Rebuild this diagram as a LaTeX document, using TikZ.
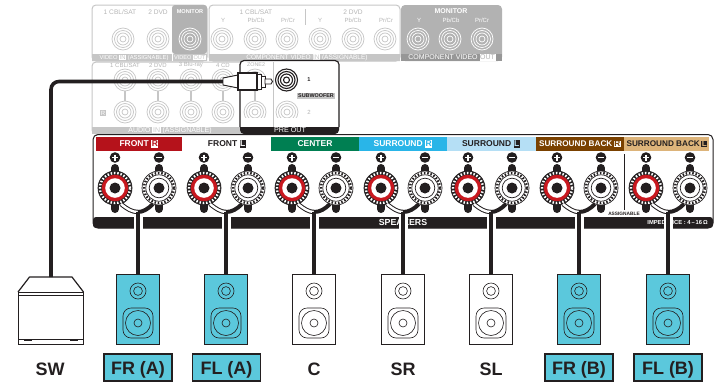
\documentclass[tikz,border=0pt]{standalone}
\usepackage{fontspec}
\setmainfont{Liberation Sans}
\usetikzlibrary{positioning}
\definecolor{Ink}{HTML}{231F20}
\definecolor{PanelLine}{HTML}{C6C6C6}
\definecolor{PanelText}{HTML}{B4B4B4}
\definecolor{Monitor}{HTML}{B2B2B2}
\definecolor{Teal}{HTML}{5BC8DC}
\definecolor{TermRed}{HTML}{C8181F}
\definecolor{FrontRed}{HTML}{B5121B}
\definecolor{CenterGreen}{HTML}{007F52}
\definecolor{SurrCyan}{HTML}{29B5E8}
\definecolor{SurrPale}{HTML}{B5DFF5}
\definecolor{BackBrown}{HTML}{7A4100}
\definecolor{BackTan}{HTML}{DDB47A}
\newcommand{\chan}[3]{{\setlength{\fboxsep}{0.6pt}\colorbox{#1}{\textcolor{#2}{#3}}}}
\tikzset{
  graytxt/.style={inner sep=0pt,text=PanelText,font=\fontsize{6}{7}\selectfont},
  striptxt/.style={inner sep=0pt,text=white,font=\fontsize{6.5}{7}\selectfont},
  bartxt/.style={inner sep=0pt,font=\fontsize{8.5}{10}\selectfont\bfseries},
  spkbox/.style={draw=Ink,line width=1.2pt,minimum width=43pt,minimum height=70pt,inner sep=0pt},
  spklabel/.style={inner sep=0pt,text=Ink,font=\fontsize{18}{20}\selectfont\bfseries},
  spktag/.style={spklabel,draw=Ink,line width=1.5pt,fill=Teal,minimum width=68pt,minimum height=27pt,text height=16pt,text depth=2pt},
  cable/.style={Ink,line width=3.6pt},
  halo/.style={white,line width=9pt}
}
\begin{document}
\begin{tikzpicture}[x=1pt,y=-1pt]
    \useasboundingbox (0,0) rectangle (717,383);

    % rear panels, greyed out
    \draw[PanelLine,line width=1pt,rounded corners=4pt] (92,5) rectangle (207,61);
    \fill[Monitor,rounded corners=3pt] (172,5) rectangle (207,54);
    \draw[PanelLine,line width=1pt,rounded corners=4pt] (209,5) rectangle (400,61);
    \fill[Monitor,rounded corners=4pt] (401,5) rectangle (502,61);
    \draw[PanelLine,line width=1pt,rounded corners=4pt] (92,62) rectangle (245,134);
    \fill[PanelLine] (92,54) rectangle (207,61) (209,54) rectangle (400,61);
    \fill[PanelLine] (92,127) rectangle (245,134);
    \fill[Monitor!85!black] (401,54) rectangle (502,61);
    \draw[PanelLine,line width=1pt] (305,9) -- (305,25);
    \draw[white,line width=0.8pt] (172,54) -- (172,61);

    \foreach \x in {125,158,191,223}{\draw[PanelLine,line width=1.4pt] (\x,88) -- (\x,104);}
    \foreach \x/\y in {123/39,158/39,222/39,255/39,287/39,320/39,353/39,385/39,125/80,158/80,191/80,223/80,125/112,158/112,191/112,223/112}{
      \draw[PanelLine,fill=white,line width=0.7pt] (\x,\y) circle (11pt) circle (8.5pt) circle (6pt) circle (3pt);
    }
    \foreach \x in {190,418,450,482}{
      \draw[white,line width=0.7pt] (\x,39) circle (11pt) circle (8.5pt) circle (6pt) circle (3pt);
    }
    \foreach \n/\x/\t in {a/120/{1 CBL/SAT},b/158/{2 DVD},c/256/{1 CBL/SAT},d/353/{2 DVD}}{
      \node[graytxt,font=\fontsize{6.6}{7}\selectfont] (top\n) at (\x,12) {\t};
    }
    \foreach \n/\x/\y/\t in {e/223/20/Y,f/256/20/{Pb/Cb},g/288/20/{Pr/Cr},h/320/20/Y,i/353/20/{Pb/Cb},j/386/20/{Pr/Cr},
      k/125/65/{1 CBL/SAT},l/158/65/{2 DVD},m/191/65/{3 Blu-ray},n/223/65/{4 CD}}{
      \node[graytxt] (top\n) at (\x,\y) {\t};
    }
    \foreach \n/\x/\t in {y/419/Y,b/451/{Pb/Cb},r/482/{Pr/Cr}}{\node[graytxt,text=white] (mon\n) at (\x,20) {\t};}
    \node[graytxt,text=white,font=\fontsize{5.6}{6}\selectfont\bfseries] (vidmon) at (190,11.5) {MONITOR};
    \node[graytxt,text=white,font=\fontsize{7}{8}\selectfont\bfseries] (cmpmon) at (451,11) {MONITOR};
    \node[graytxt] (rbox) at (103,113) {\chan{PanelLine}{white}{R}};

    \node[striptxt,font=\fontsize{5.8}{6}\selectfont] (vidin) at (134,57.5) {VIDEO \chan{white}{PanelLine}{IN} (ASSIGNABLE)};
    \node[striptxt,font=\fontsize{5.6}{6}\selectfont] (vidout) at (190,57.5) {VIDEO \chan{white}{PanelLine}{OUT}};
    \node[striptxt] (cmpin) at (307,57.5) {COMPONENT VIDEO \chan{white}{PanelLine}{IN} (ASSIGNABLE)};
    \node[striptxt,font=\fontsize{7}{8}\selectfont] (cmpout) at (452,57.5) {COMPONENT VIDEO \chan{white}{Monitor}{OUT}};
    \node[striptxt,font=\fontsize{7}{8}\selectfont] (audin) at (170,130.5) {AUDIO \chan{white}{PanelLine}{IN} (ASSIGNABLE)};

    % pre out block
    \fill[white,rounded corners=4pt] (240,60) rectangle (339,133);
    \draw[PanelLine,line width=1.4pt] (255,88) -- (255,104);
    \draw[PanelLine,line width=0.9pt] (273,62) -- (273,127);
    \foreach \x/\y in {255/80,255/112,287/112}{
      \draw[PanelLine,fill=white,line width=0.7pt] (\x,\y) circle (11pt) circle (8.5pt) circle (6pt) circle (3pt);
    }
    \fill[Ink,rounded corners=4pt] (240,120) rectangle (339,134);
    \fill[white] (240,118) rectangle (339,127);
    \draw[PanelLine,line width=0.9pt] (273,118) -- (273,127);
    \draw[Ink,line width=1.2pt,rounded corners=4pt] (240,127) -- (240,60.5) -- (339,60.5) -- (339,127);
    \node[striptxt,font=\fontsize{7.2}{8}\selectfont] (preout) at (290,130.5) {PRE OUT};
    \node[graytxt,font=\fontsize{5.4}{6}\selectfont] (zonetwo) at (256,65) {ZONE2};
    \node[graytxt,text=Ink,font=\fontsize{5.6}{6}\selectfont\bfseries] (subone) at (309,80) {1};
    \node[graytxt] (subtwo) at (309,112) {2};
    \node[fill=PanelLine,inner sep=0.8pt,text=Ink,font=\fontsize{5.4}{6}\selectfont\bfseries] (subname) at (316,96) {SUBWOOFER};
    \draw[Ink,fill=white,line width=1.1pt] (286.5,80) circle (11pt) circle (8.5pt) circle (6pt) circle (3pt);

    % speaker terminal panel
    \draw[Ink,fill=white,line width=1pt,rounded corners=5pt] (93,134.5) rectangle (713,228);
    \fill[Ink,rounded corners=3pt] (93,217) rectangle (713,228);
    \fill[FrontRed] (96,137) rectangle (182,151);
    \fill[CenterGreen] (271,137) rectangle (359,151);
    \fill[SurrCyan] (359,137) rectangle (447,151);
    \fill[SurrPale] (447,137) rectangle (536,151);
    \fill[BackBrown] (536,137) rectangle (624,151);
    \fill[BackTan] (624,137) rectangle (709,151);
    \node[bartxt,text=white] (frontr) at (139,144) {FRONT \chan{white}{FrontRed}{R}};
    \node[bartxt,text=Ink] (frontl) at (227,144) {FRONT \chan{Ink}{white}{L}};
    \node[bartxt,text=white] (center) at (315,144) {CENTER};
    \node[bartxt,text=white] (surrr) at (403,144) {SURROUND \chan{white}{SurrCyan}{R}};
    \node[bartxt,text=Ink] (surrl) at (491,144) {SURROUND \chan{Ink}{SurrPale}{L}};
    \node[bartxt,text=white,font=\fontsize{8.2}{10}\selectfont\bfseries] (backr) at (580,144) {SURROUND BACK\,\chan{white}{BackBrown}{R}};
    \node[bartxt,text=Ink,font=\fontsize{8.2}{10}\selectfont\bfseries] (backl) at (667,144) {SURROUND BACK\,\chan{Ink}{BackTan}{L}};
    \draw[Ink,line width=1pt] (624,154) -- (624,210);
    \node[inner sep=0pt,text=Ink,font=\fontsize{4.8}{6}\selectfont\bfseries] (assign) at (624,213.5) {ASSIGNABLE};
    \node[striptxt,font=\fontsize{8.8}{10}\selectfont\bfseries] (speakers) at (403,222.5) {SPEAKERS};
    \node[striptxt,anchor=east,font=\fontsize{5.8}{6}\selectfont\bfseries] (imped) at (708,222.5) {IMPEDANCE : 4\,–\,16\,Ω};

    \foreach \n/\x/\cx/\c in {FRA/115/138/Teal,FLA/204/226/Teal,C/292/314/white,SR/381/403/white,SL/468/491/white,FRB/557/579/Teal,FLB/646/668/Teal}{
      \pgfmathsetmacro{\xm}{\x+44}
      \foreach \u/\f/\e/\k in {\x/TermRed/Ink/white,\xm/white/white/Ink}{
        \draw[Ink,line width=8pt,line cap=round] (\u,168) -- (\u,209);
        \draw[Ink,fill=\e,line width=0.7pt] (\u,188) circle (17pt);
        \draw[\k,line width=2.4pt,dash pattern=on 1.5pt off 1.8pt] (\u,188) circle (15pt);
        \fill[\f] (\u,188) circle (13.2pt);
        \ifx\f\e\draw[Ink,line width=0.7pt] (\u,188) circle (13.2pt);\fi
        \fill[white] (\u,188) circle (9.8pt);
        \ifx\f\e\draw[Ink,line width=0.7pt] (\u,188) circle (9.8pt);\fi
        \fill[Ink] (\u,188) circle (5.5pt);
        \fill[Ink] (\u,157.5) circle (5.3pt);
      }
      \draw[white,line width=1.5pt] (\x-3,157.5) -- (\x+3,157.5) (\x,154.5) -- (\x,160.5);
      \draw[white,line width=1.5pt] (\xm-3,157.5) -- (\xm+3,157.5);
      \node[spkbox,fill=\c] (spk\n) at (\cx,309.5) {};
      \coordinate (tap\n) at (\cx,212);
      \coordinate (plus\n) at (\x+6,204);
      \coordinate (minus\n) at (\xm-6,204);
      \draw[halo] (tap\n) -- (spk\n.north);
      \draw[Ink,line width=4.4pt] (plus\n) .. controls (\x+12,209) and (\x+17,212) .. (tap\n);
      \draw[white,line width=2.4pt] (plus\n) .. controls (\x+12,209) and (\x+17,212) .. (tap\n);
      \draw[Ink,line width=4pt] (minus\n) .. controls (\xm-11,209) and (\xm-16,212) .. (tap\n);
      \draw[cable] (tap\n) -- (spk\n.north);
      \draw[Ink,line width=0.6pt] (\cx,291) circle (8pt) circle (4.4pt);
      \draw[Ink,line width=0.6pt,rounded corners=8pt] (\cx-15,308) rectangle (\cx+15,338);
      \draw[Ink,line width=0.6pt] (\cx,323) circle (12.5pt) circle (4pt);
    }

    % subwoofer
    \coordinate (plugtail) at (225,81.5);
    \node[draw=Ink,line width=1.2pt,minimum width=65pt,minimum height=52pt,inner sep=0pt] (spkSW) at (51,318.5) {};
    \coordinate (swtop) at (51,277);
    \draw[Ink,line width=1.2pt,line join=round] (18,292) -- (29.5,277) -- (72,277) -- (83.5,292);
    \draw[Ink,line width=0.8pt] (18,295) -- (84,295);
    \draw[Ink,line width=0.7pt] (18.5,339.5) -- (83.5,339.5);
    \draw[Ink,line width=1pt] (24,340.5) -- (32,340.5) (70,340.5) -- (78,340.5);
    \draw[cable,rounded corners=8pt] (plugtail) -| (swtop);

    % plug
    \draw[Ink,fill=white,line width=0.9pt,line join=round] (223,78) -- (238,75) -- (238,88) -- (223,85) -- cycle;
    \draw[Ink,fill=white,line width=1.1pt] (238,73) rectangle (257,90);
    \draw[Ink,fill=white,line width=0.9pt] (257,74) rectangle (261,89);
    \draw[Ink,fill=white,line width=0.9pt] (261,76) rectangle (265,87);
    \draw[Ink,fill=white,line width=0.9pt] (265,79) -- (271,79) -- (272.5,81.5) -- (271,84) -- (265,84) -- cycle;

    % speaker names
    \node[spklabel] (nameSW) at (50,369.5) {SW};
    \node[spktag] (nameFRA) at (138,367.5) {FR (A)};
    \node[spktag] (nameFLA) at (226.5,367.5) {FL (A)};
    \node[spklabel] (nameC) at (314,369.5) {C};
    \node[spklabel] (nameSR) at (403,369.5) {SR};
    \node[spklabel] (nameSL) at (491,369.5) {SL};
    \node[spktag] (nameFRB) at (579,367.5) {FR (B)};
    \node[spktag] (nameFLB) at (668,367.5) {FL (B)};
  \end{tikzpicture}
\end{document}
